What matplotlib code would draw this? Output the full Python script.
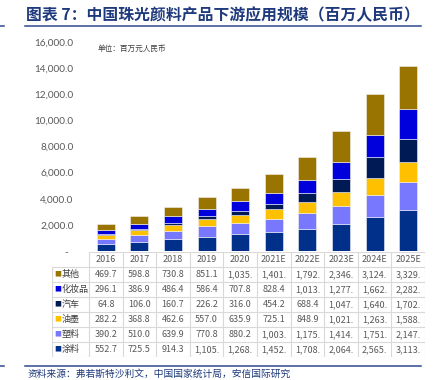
import numpy as np
import matplotlib
matplotlib.use("Agg")
from matplotlib import pyplot as plt

plt.rcParams['font.family'] = ['Noto Sans CJK SC', 'DejaVu Sans']

years = ['2016', '2017', '2018', '2019', '2020', '2021E', '2022E', '2023E', '2024E', '2025E']

# bottom to top
coating = [552.7, 725.5, 914.3, 1105.4, 1268.3, 1452.6, 1708.2, 2064.5, 2565.1, 3113.7]
plastic = [390.2, 510.0, 639.9, 770.8, 880.2, 1003.5, 1175.4, 1414.2, 1751.8, 2147.3]
ink = [282.2, 368.8, 462.6, 557.0, 635.9, 725.1, 848.9, 1021.6, 1263.4, 1588.2]
auto = [64.8, 106.0, 160.7, 226.2, 316.0, 454.2, 688.4, 1047.3, 1640.5, 1702.1]
cosmetic = [296.1, 386.9, 486.4, 586.4, 707.8, 828.4, 1013.7, 1277.2, 1662.9, 2282.4]
other = [469.7, 598.8, 730.8, 851.1, 1035.6, 1401.3, 1792.8, 2346.5, 3124.2, 3329.6]

names = ['涂料', '塑料', '油墨', '汽车', '化妆品', '其他']
series = [coating, plastic, ink, auto, cosmetic, other]
colors = ['#00308A', '#7878FF', '#FFC000', '#001A56', '#0000DC', '#9A7400']

W, H = 445, 380
fig = plt.figure(figsize=(W / 100, H / 100), dpi=100)

def fx(px):
    return px / W

def fy(py):
    return 1 - py / H

# title
fig.text(fx(26), fy(15), '图表 7：中国珠光颜料产品下游应用规模（百万人民币）',
         fontsize=11.4, fontweight='bold', color='#1F3A7C', va='center', ha='left')
fig.add_artist(plt.Line2D([fx(25), fx(421)], [fy(25.5), fy(25.5)], color='#2E4A8E', lw=1.1))
fig.add_artist(plt.Line2D([0, fx(4)], [fy(25.5), fy(25.5)], color='#2E4A8E', lw=1.1))

# bars
ax = fig.add_axes([fx(89), fy(251), fx(425 - 89), fy(42) - fy(251)])
x = np.arange(len(years))
bottom = np.zeros(len(years))
for vals, c in zip(series, colors):
    ax.bar(x, vals, width=0.54, bottom=bottom, color=c, edgecolor='#F2F2F2', linewidth=0.4)
    bottom += np.array(vals)
ax.set_xlim(-0.5, len(years) - 0.5)
ax.set_ylim(0, 16000)
ax.set_yticks(np.arange(0, 16001, 2000))
ax.set_yticklabels(['-  '] + [f'{v:,.1f}' for v in np.arange(2000, 16001, 2000)],
                   fontsize=7.2, color='#595959', family=['Lato', 'DejaVu Sans'])
ax.tick_params(axis='y', length=0, pad=11)
ax.set_xticks([])
for s in ax.spines.values():
    s.set_visible(False)
ax.text(0.025, 0.965, '单位：百万元人民币', transform=ax.transAxes, fontsize=5.5,
        color='#404040', va='center', ha='left')

# data table
tax = fig.add_axes([fx(52), fy(357), fx(425 - 52), fy(252) - fy(357)])
tax.set_xlim(-1.6, len(years) - 0.5)
tax.set_ylim(7, 0)
tax.axis('off')
gc = '#D9D9D9'
tax.plot([-0.5, len(years) - 0.5], [0, 0], color=gc, lw=0.8)
for r in range(1, 8):
    tax.plot([-1.6, len(years) - 0.5], [r, r], color=gc, lw=0.8)
tax.plot([-1.6, -1.6], [1, 7], color=gc, lw=0.8)
for k in range(len(years) + 1):
    tax.plot([k - 0.5, k - 0.5], [0, 7], color=gc, lw=0.8)
for i, yr in enumerate(years):
    tax.text(i, 0.5, yr, ha='center', va='center', fontsize=6.5, color='#595959')
rows = list(zip(names, series, colors))[::-1]
for r, (nm, vals, c) in enumerate(rows):
    yc = r + 1.5
    tax.text(-1.52, yc, '■', ha='left', va='center', fontsize=5, color=c)
    tax.text(-1.32, yc, nm, ha='left', va='center', fontsize=6.5, color='#404040')
    for i, v in enumerate(vals):
        tax.text(i, yc, f'{v:,.1f}'[:6], ha='center', va='center', fontsize=6.5, color='#595959')

# footer
fig.add_artist(plt.Line2D([fx(25), fx(421)], [fy(366), fy(366)], color='#2E4A8E', lw=1.1))
fig.add_artist(plt.Line2D([0, fx(4)], [fy(366), fy(366)], color='#2E4A8E', lw=1.1))
fig.text(fx(28), fy(373.5), '资料来源：弗若斯特沙利文，中国国家统计局，安信国际研究',
         fontsize=7, color='#1F3A7C', va='center', ha='left', style='italic')

fig.savefig('out.png', dpi=100)
